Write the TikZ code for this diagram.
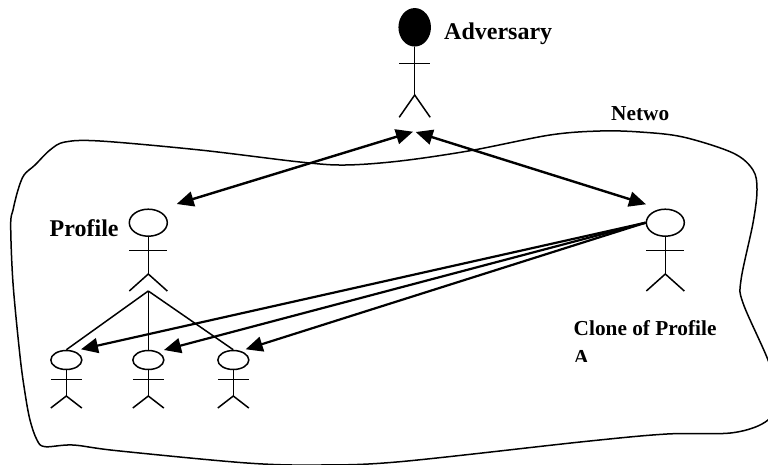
\documentclass[tikz,border=0pt]{standalone}
\usepackage{fontspec}
\setmainfont{Liberation Serif}
\usetikzlibrary{arrows.meta, shapes.geometric, calc}

\tikzset{head_style/.style={ellipse, draw, line width=1.5pt, inner sep=0pt, minimum width=38pt, minimum height=27pt}}
\tikzset{small_head/.style={head_style, minimum width=31pt, minimum height=19pt}}
\tikzset{dark_head/.style={head_style, fill=black, minimum width=31pt, minimum height=37pt}}
\tikzset{body_style/.style={line width=1.5pt}}
\tikzset{link_style/.style={line width=2.4pt, {Triangle[length=17pt,width=15pt]}-{Triangle[length=17pt,width=15pt]}}}
\tikzset{copy_style/.style={line width=2.2pt, -{Triangle[length=17pt,width=15pt]}}}
\tikzset{big_label/.style={anchor=base west, inner sep=0pt, font=\bfseries\fontsize{24}{26}\selectfont}}
\tikzset{mid_label/.style={anchor=base west, inner sep=0pt, font=\bfseries\fontsize{21.3}{24}\selectfont}}

% name, half width, arms, hip, feet (offsets from the head centre)
\newcommand{\actorbody}[5]{
    \draw[body_style] (#1.south) -- ($(#1.center)+(0,#4)$);
    \draw[body_style] ($(#1.center)+(-#2,#3)$) -- ($(#1.center)+(#2,#3)$);
    \draw[body_style] ($(#1.center)+(-#2,#5)$) -- ($(#1.center)+(0,#4)$) -- ($(#1.center)+(#2,#5)$);
}

\begin{document}
\begin{tikzpicture}[x=1pt, y=-1pt]
    \useasboundingbox (0,0) rectangle (768,464);
    \clip (0,0) rectangle (768,464);

    % network outline
    \draw[line width=1.5pt] plot[smooth cycle, tension=0.55] coordinates {
        (10.7,225) (13,210) (18,190) (24,175) (35,165) (50,150) (65,142) (100,141)
        (200,150) (300,162) (345,165) (400,161) (470,150.7) (550,135) (600,131)
        (640,132) (683,137) (733,153) (753,170) (757,190) (753,223) (741,280)
        (743,303) (768,360) (778,395) (768,420) (733,432.7) (667,434) (583,441.7)
        (400,461.7) (320,465) (247,463) (117,450.7) (73,445) (45,446.7) (37,440)
        (30,420) (25,393) (20,356) (13,283)
    };

    \node[dark_head] (adversary) at (414.7,27.3) {};
    \node[head_style] (profile) at (148.3,222.7) {};
    \node[head_style] (clone) at (665.3,222.7) {};
    \node[small_head] (friend1) at (66.3,360) {};
    \node[small_head] (friend2) at (148.3,360) {};
    \node[small_head] (friend3) at (233.3,360) {};

    \actorbody{adversary}{15.5}{36}{67.7}{90}
    \actorbody{profile}{19}{27.6}{51.3}{68.3}
    \actorbody{clone}{19}{27.6}{51.3}{68.3}
    \actorbody{friend1}{15.5}{19.3}{36}{48}
    \actorbody{friend2}{15.5}{19.3}{36}{48}
    \actorbody{friend3}{15.5}{19.3}{36}{48}

    \coordinate (profile_feet) at (148.3,291);
    \coordinate (adv_left) at (413,131.7);
    \coordinate (adv_right) at (415.7,132);
    \coordinate (profile_top) at (176.7,204);
    \coordinate (clone_top) at (646,204.3);
    \coordinate (tip1) at (81,349.3);
    \coordinate (tip2) at (164,350);
    \coordinate (tip3) at (245.7,349.3);

    \draw[body_style] (profile_feet) -- (friend1.north);
    \draw[body_style] (profile_feet) -- (friend2.north);
    \draw[body_style] (profile_feet) -- (friend3.north);

    \draw[link_style] (adv_left) -- (profile_top);
    \draw[link_style] (adv_right) -- (clone_top);

    \draw[copy_style] (clone.west) -- (tip1);
    \draw[copy_style] (clone.west) -- (tip2);
    \draw[copy_style] (clone.west) -- (tip3);

    \node[big_label] (adv_text) at (444,39.3) {Adversary};
    \node[big_label] (profile_text) at (49.5,236.7) {Profile};
    \node[mid_label] (net_text) at (611,120) {Netwo};
    \node[mid_label] (clone_text) at (573.5,335) {Clone of Profile};
    \begin{scope}
        \clip (565,345) rectangle (600,361);
        \node[mid_label] (clone_letter) at (573.5,364) {A};
    \end{scope}
\end{tikzpicture}
\end{document}
